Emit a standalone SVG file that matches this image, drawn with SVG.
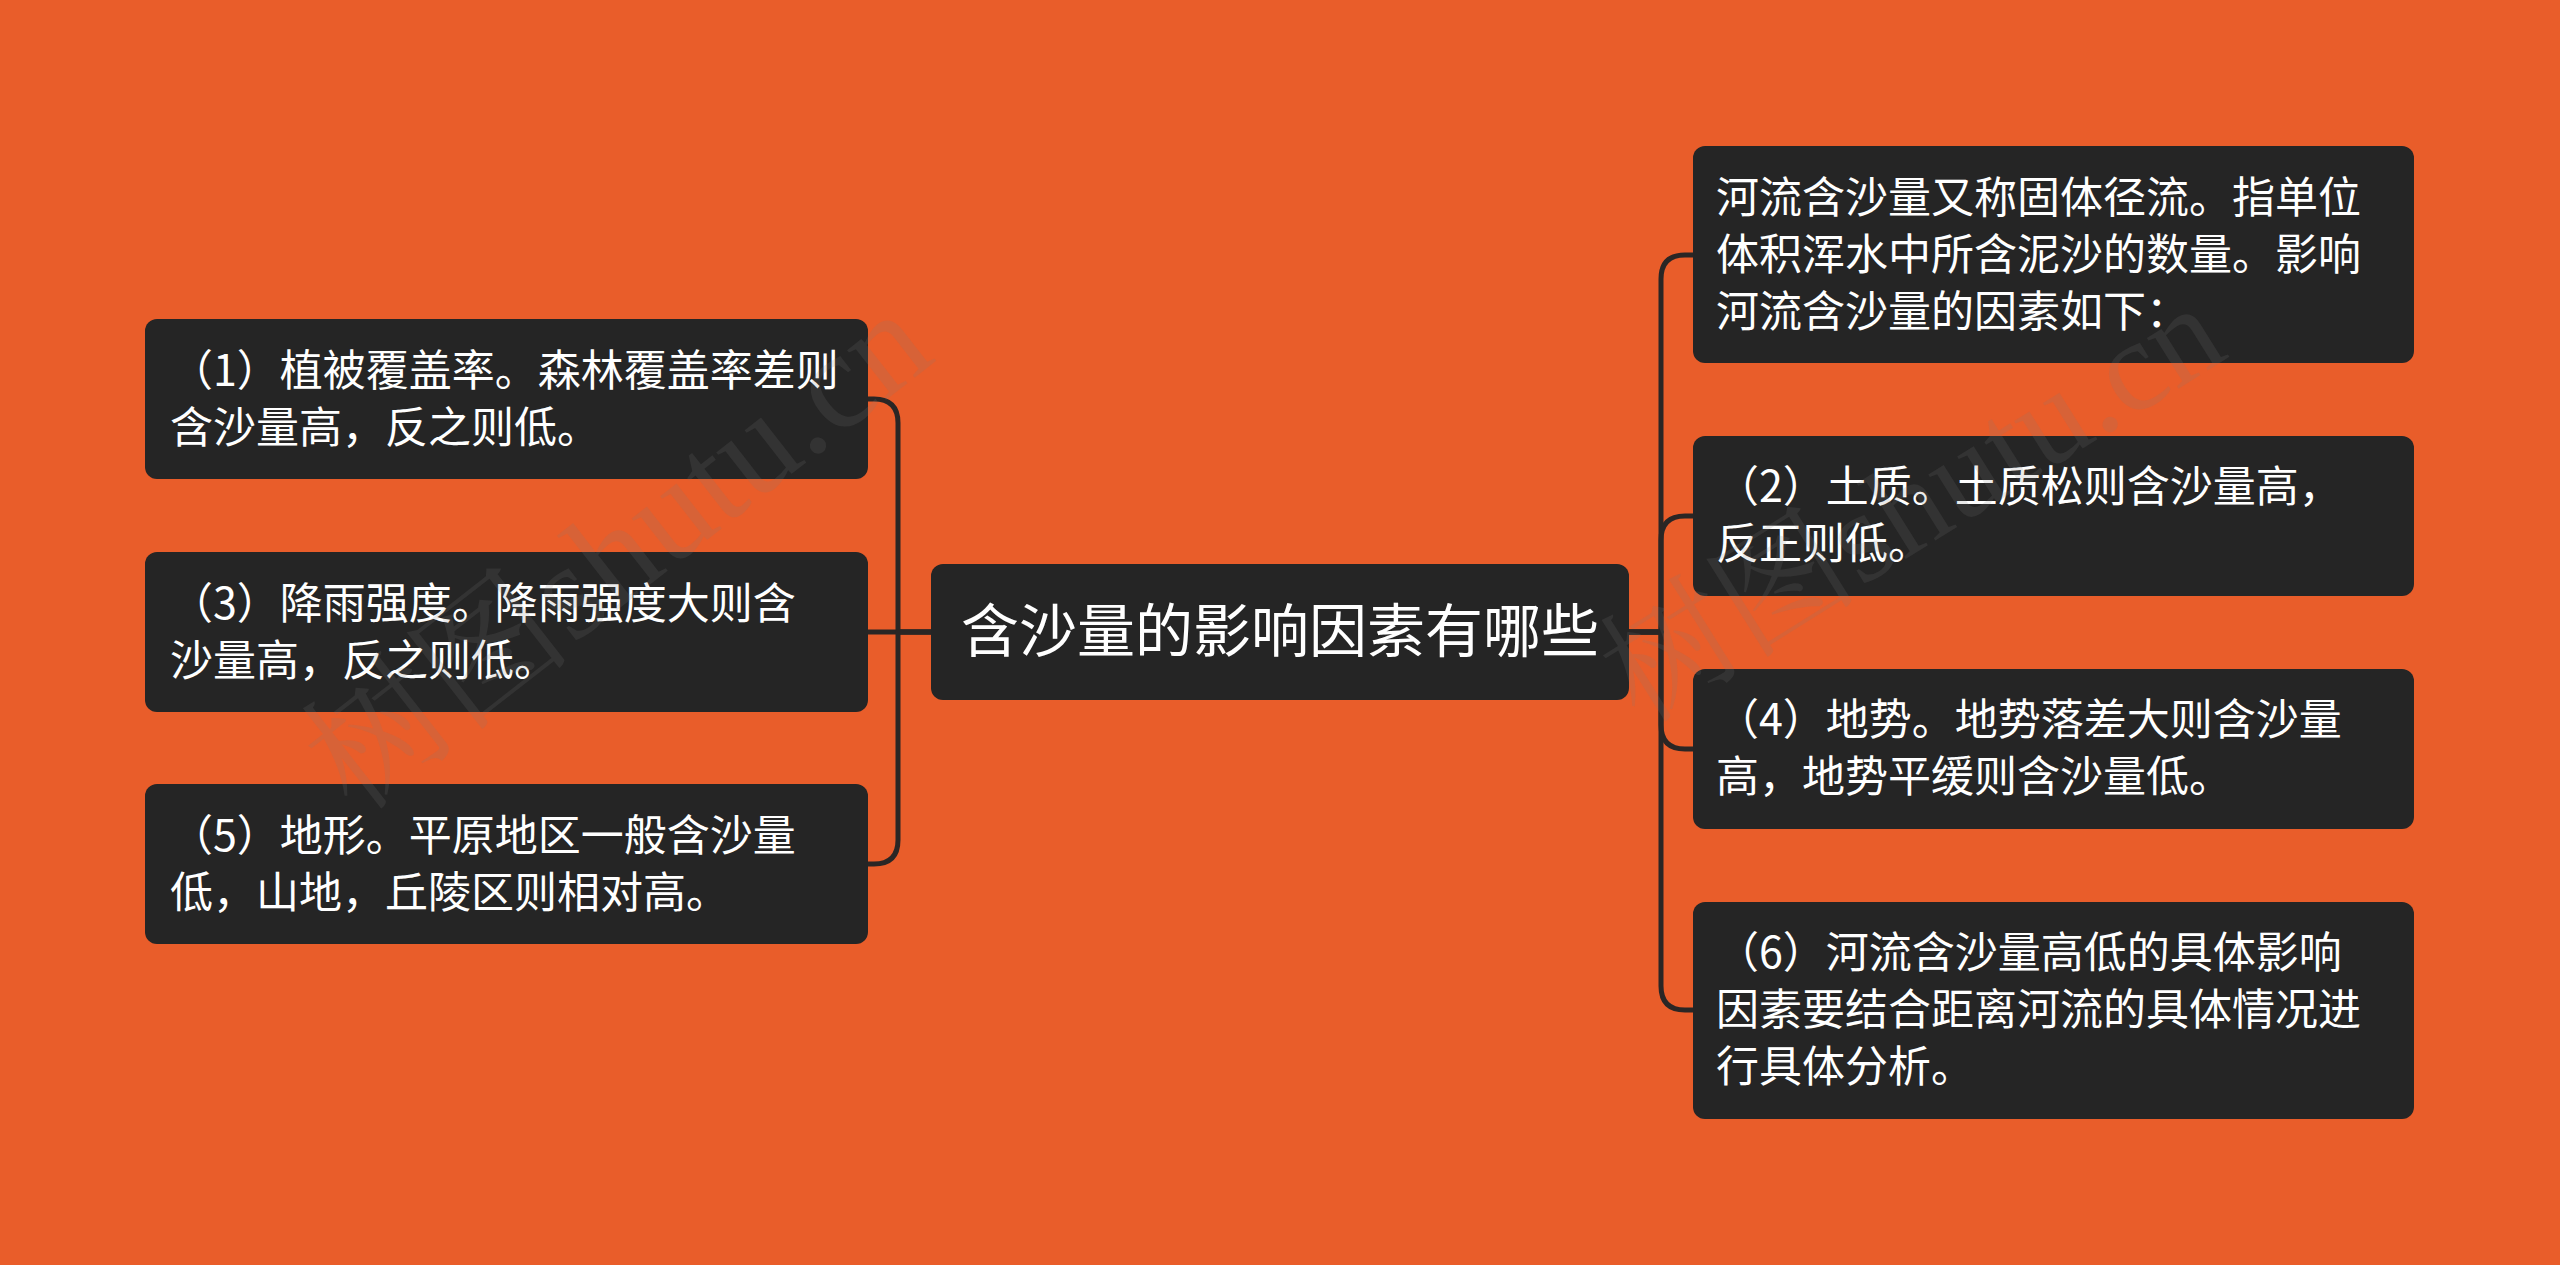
<svg xmlns="http://www.w3.org/2000/svg" width="2560" height="1265" viewBox="0 0 2560 1265">
<style>
.bg{fill:#E95D2A}
.box{fill:#252525}
.t{fill:#FFFFFF;font-family:"Noto Sans CJK SC","Noto Sans CJK JP",sans-serif;font-size:43px}
.tc{fill:#FFFFFF;font-family:"Noto Sans CJK SC","Noto Sans CJK JP",sans-serif;font-size:58px;text-anchor:middle}
.ln{fill:none;stroke:#2A2625;stroke-width:5;stroke-linejoin:round}
.wm{fill:#7A7A7A;fill-opacity:0.16;font-family:"Liberation Serif","Noto Serif CJK SC","Noto Sans CJK SC",serif}
</style>
<rect class="bg" x="0" y="0" width="2560" height="1265"/>
<g id="connectors">
<path class="ln" d="M931 632 H868"/>
<path class="ln" d="M931 632 H898 V423 Q898 399 874 399 H868"/>
<path class="ln" d="M931 632 H898 V840 Q898 864 874 864 H868"/>
<path class="ln" d="M1629 632 H1661 V279 Q1661 255 1685 255 H1693"/>
<path class="ln" d="M1629 632 H1661 V540 Q1661 516 1685 516 H1693"/>
<path class="ln" d="M1629 632 H1661 V725 Q1661 749 1685 749 H1693"/>
<path class="ln" d="M1629 632 H1661 V986 Q1661 1010 1685 1010 H1693"/>
</g>
<g id="center">
<rect class="box" x="931" y="564" width="698" height="136" rx="12"/>
<text class="tc" x="1280" y="652">含沙量的影响因素有哪些</text>
</g>
<g id="n1">
<rect class="box" x="145" y="319" width="723" height="160" rx="12"/>
<text class="t" x="170" y="386">（1）植被覆盖率。森林覆盖率差则</text>
<text class="t" x="170" y="443">含沙量高，反之则低。</text>
</g>
<g id="n3">
<rect class="box" x="145" y="552" width="723" height="160" rx="12"/>
<text class="t" x="170" y="619">（3）降雨强度。降雨强度大则含</text>
<text class="t" x="170" y="676">沙量高，反之则低。</text>
</g>
<g id="n5">
<rect class="box" x="145" y="784" width="723" height="160" rx="12"/>
<text class="t" x="170" y="851">（5）地形。平原地区一般含沙量</text>
<text class="t" x="170" y="908">低，山地，丘陵区则相对高。</text>
</g>
<g id="nA">
<rect class="box" x="1693" y="146" width="721" height="217" rx="12"/>
<text class="t" x="1716" y="213">河流含沙量又称固体径流。指单位</text>
<text class="t" x="1716" y="270">体积浑水中所含泥沙的数量。影响</text>
<text class="t" x="1716" y="327">河流含沙量的因素如下：</text>
</g>
<g id="n2">
<rect class="box" x="1693" y="436" width="721" height="160" rx="12"/>
<text class="t" x="1716" y="502">（2）土质。土质松则含沙量高，</text>
<text class="t" x="1716" y="559">反正则低。</text>
</g>
<g id="n4">
<rect class="box" x="1693" y="669" width="721" height="160" rx="12"/>
<text class="t" x="1716" y="735">（4）地势。地势落差大则含沙量</text>
<text class="t" x="1716" y="792">高，地势平缓则含沙量低。</text>
</g>
<g id="n6">
<rect class="box" x="1693" y="902" width="721" height="217" rx="12"/>
<text class="t" x="1716" y="968">（6）河流含沙量高低的具体影响</text>
<text class="t" x="1716" y="1025">因素要结合距离河流的具体情况进</text>
<text class="t" x="1716" y="1082">行具体分析。</text>
</g>
<g id="watermark">
<text class="wm" font-size="138" transform="translate(355 815) rotate(-38)">树图shutu.cn</text>
<text class="wm" font-size="130" transform="translate(1640 725) rotate(-32)">树图shutu.cn</text>
</g>
</svg>
